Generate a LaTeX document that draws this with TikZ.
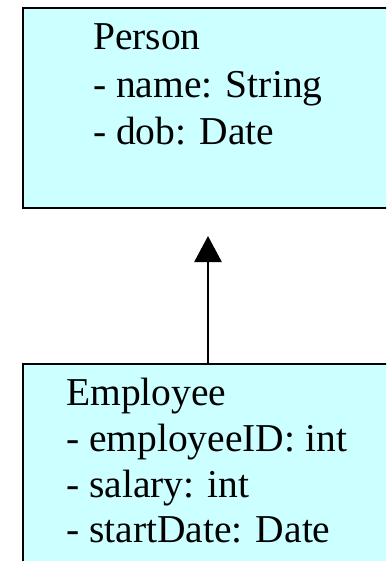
\documentclass[tikz,border=0pt]{standalone}
\usepackage{fontspec}
\setmainfont{Liberation Serif}
\usetikzlibrary{arrows.meta}
\definecolor{boxcyan}{RGB}{204,255,255}
\tikzset{
  classbox/.style={draw=black, line width=1.6pt, fill=boxcyan, rectangle, anchor=north west, inner sep=0pt},
  txt/.style={anchor=base west, inner sep=0pt, font=\fontsize{39.5}{46}\selectfont},
  inherit/.style={line width=2.8pt, -{Triangle[length=26pt, width=27pt]}}
}
\begin{document}
\begin{tikzpicture}[x=1pt,y=-1pt]
\useasboundingbox (0,0) rectangle (386,561);
\clip (0,0) rectangle (386,561);
\node[classbox, minimum width=380pt, minimum height=200pt] (person) at (22,7) {};
\node[classbox, minimum width=380pt, minimum height=220pt] (employee) at (22,363) {};
\node[txt] (p1) at (93,50) {Person};
\node[txt] (p2) at (93,98) {- name: String};
\node[txt] (p3) at (93,145) {- dob: Date};
\node[txt] (e1) at (66,405) {Employee};
\node[txt] (e2) at (66,451) {- employeeID: int};
\node[txt] (e3) at (66,497) {- salary: int};
\node[txt] (e4) at (66,542) {- startDate: Date};
\coordinate (tip) at (208,236);
\draw[inherit] (employee.north west -| tip) -- (tip);
\end{tikzpicture}
\end{document}
